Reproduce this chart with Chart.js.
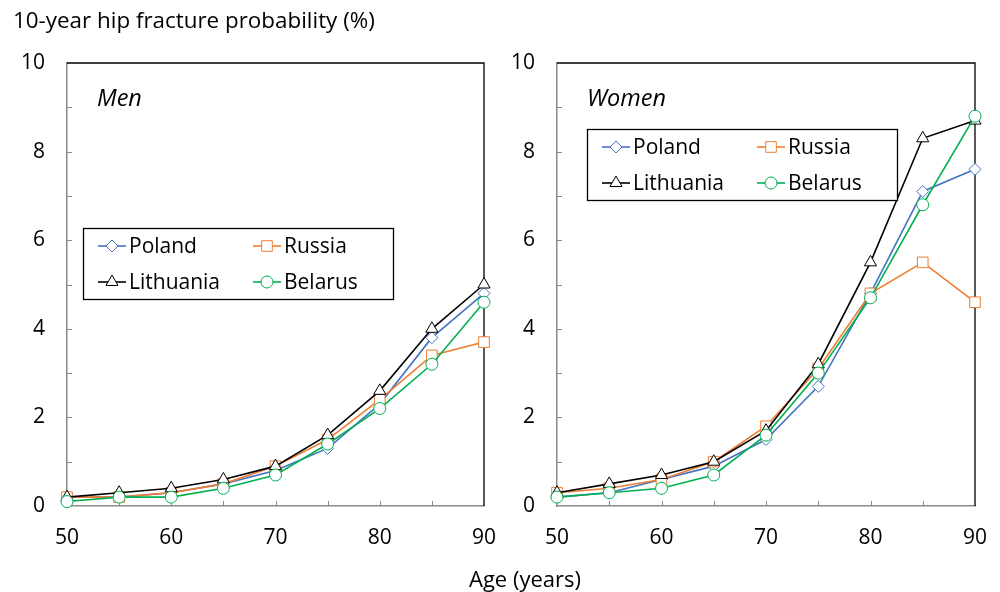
<!DOCTYPE html>
<html>
<head>
<meta charset="utf-8">
<script src="https://cdn.jsdelivr.net/npm/chart.js@4"></script>
<style>
  body { margin: 0; background: #fff; font-family: "Open Sans", sans-serif; }
  #wrap { position: relative; width: 1000px; height: 592px; overflow: hidden; }
  .panel { position: absolute; top: 0; height: 592px; }
  .txt { position: absolute; color: #000; white-space: nowrap; line-height: 24px; }
</style>
</head>
<body>
<div id="wrap">
  <div class="panel" style="left:0;width:500px"><canvas id="menChart"></canvas></div>
  <div class="panel" style="left:490px;width:510px"><canvas id="womenChart"></canvas></div>
  <div class="txt" style="left:13px;top:8px;font-size:22.4px">10-year hip fracture probability (%)</div>
  <div class="txt" style="left:469px;top:566px;font-size:22px">Age (years)</div>
</div>
<script>
// ages on the x axis
const ages = [50, 55, 60, 65, 70, 75, 80, 85, 90];

// Men
const menPoland    = [0.2, 0.2, 0.3, 0.5, 0.8, 1.3, 2.3, 3.8, 4.8];
const menRussia    = [0.2, 0.2, 0.3, 0.5, 0.9, 1.5, 2.4, 3.4, 3.7];
const menLithuania = [0.2, 0.3, 0.4, 0.6, 0.9, 1.6, 2.6, 4.0, 5.0];
const menBelarus   = [0.1, 0.2, 0.2, 0.4, 0.7, 1.4, 2.2, 3.2, 4.6];

// Women
const womenPoland    = [0.2, 0.3, 0.6, 0.9, 1.5, 2.7, 4.8, 7.1, 7.6];
const womenRussia    = [0.3, 0.4, 0.6, 1.0, 1.8, 3.1, 4.8, 5.5, 4.6];
const womenLithuania = [0.3, 0.5, 0.7, 1.0, 1.7, 3.2, 5.5, 8.3, 8.7];
const womenBelarus   = [0.2, 0.3, 0.4, 0.7, 1.6, 3.0, 4.7, 6.8, 8.8];

const countries = ['Poland', 'Russia', 'Lithuania', 'Belarus'];
const yTicks = [0, 2, 4, 6, 8, 10];
const xTicks = [50, 60, 70, 80, 90];

const FONT = '"Open Sans", sans-serif';
const AXIS_GREY = '#898989';

const styles = {
    Poland:    { color: '#4472C4', point: 'rectRot',  radius: 6,   order: 4 },
    Russia:    { color: '#ED7D31', point: 'rect',     radius: 7.5, order: 3 },
    Lithuania: { color: '#000000', point: 'triangle', radius: 7,   order: 2 },
    Belarus:   { color: '#00B050', point: 'circle',   radius: 6,   order: 1 }
};

function buildDatasets(values) {
    return countries.map((name, i) => {
        const s = styles[name];
        return {
            label: name,
            data: ages.map((a, j) => ({ x: a, y: values[i][j] })),
            borderColor: s.color,
            backgroundColor: '#ffffff',
            borderWidth: 1.6,
            pointStyle: s.point,
            pointRadius: s.radius,
            pointBorderWidth: 1,
            pointBackgroundColor: '#ffffff',
            pointBorderColor: s.color,
            order: s.order,
            clip: false,
            tension: 0
        };
    });
}

// ticks pointing inward plus the black top and right frame
const framePlugin = {
    id: 'frame',
    beforeDatasetsDraw(chart) {
        const ctx = chart.ctx;
        const a = chart.chartArea;
        const x = chart.scales.x;
        const y = chart.scales.y;
        ctx.save();
        ctx.strokeStyle = AXIS_GREY;
        ctx.lineWidth = 1;
        for (let v = 1; v < 10; v++) {
            const py = Math.round(y.getPixelForValue(v)) + 0.5;
            ctx.beginPath();
            ctx.moveTo(a.left, py);
            ctx.lineTo(a.left + 5, py);
            ctx.stroke();
        }
        for (let v = 55; v < 90; v += 5) {
            const px = Math.round(x.getPixelForValue(v)) + 0.5;
            ctx.beginPath();
            ctx.moveTo(px, a.bottom);
            ctx.lineTo(px, a.bottom - 5);
            ctx.stroke();
        }
        ctx.strokeStyle = '#000';
        ctx.lineWidth = 1.3;
        ctx.beginPath();
        ctx.moveTo(a.left, a.top);
        ctx.lineTo(a.right, a.top);
        ctx.lineTo(a.right, a.bottom);
        ctx.stroke();
        ctx.restore();
    }
};

// boxed 2x2 legend and the italic panel label
const legendBoxPlugin = {
    id: 'legendBox',
    afterDraw(chart, args, opts) {
        const ctx = chart.ctx;
        const a = chart.chartArea;
        ctx.save();
        ctx.font = 'italic 23.5px ' + FONT;
        ctx.fillStyle = '#000';
        ctx.textBaseline = 'middle';
        ctx.textAlign = 'left';
        ctx.fillText(opts.title, a.left + 30, a.top + 36);

        const bx = a.left + opts.left;
        const by = a.top + opts.top;
        ctx.fillStyle = '#fff';
        ctx.fillRect(bx, by, 310, 71);
        ctx.strokeStyle = '#000';
        ctx.lineWidth = 1.3;
        ctx.strokeRect(bx + 0.5, by + 0.5, 310, 71);

        ctx.font = '21px ' + FONT;
        chart.data.datasets.forEach((ds, i) => {
            const col = i % 2;
            const row = Math.floor(i / 2);
            const lx = bx + 15 + col * 155;
            const ly = by + 18 + row * 36;
            ctx.strokeStyle = ds.borderColor;
            ctx.lineWidth = 1.6;
            ctx.beginPath();
            ctx.moveTo(lx, ly);
            ctx.lineTo(lx + 28, ly);
            ctx.stroke();
            ctx.fillStyle = '#fff';
            ctx.lineWidth = 1;
            Chart.helpers.drawPoint(ctx, {
                pointStyle: ds.pointStyle,
                radius: ds.pointRadius,
                borderWidth: 1,
                rotation: 0
            }, lx + 14, ly);
            ctx.fillStyle = '#000';
            ctx.fillText(ds.label, lx + 31, ly + 1);
        });
        ctx.restore();
    }
};

function makePanel(id, values, title, legendPos, rightPad) {
    const ctx = document.getElementById(id).getContext('2d');
    return new Chart(ctx, {
        type: 'line',
        data: { datasets: buildDatasets(values) },
        options: {
            responsive: true,
            maintainAspectRatio: false,
            animation: false,
            layout: { padding: { top: 63, right: rightPad, bottom: 0, left: 0 } },
            scales: {
                x: {
                    type: 'linear',
                    min: 50,
                    max: 90,
                    afterBuildTicks: scale => { scale.ticks = xTicks.map(v => ({ value: v })); },
                    afterFit: scale => {
                        scale.height = 86;
                        scale.paddingLeft = 0;
                        scale.paddingRight = 0;
                    },
                    grid: { display: false, drawTicks: false },
                    border: { display: true, color: AXIS_GREY, width: 1.5 },
                    ticks: { padding: 19, color: '#000', font: { family: FONT, size: 21 }, maxRotation: 0 }
                },
                y: {
                    min: 0,
                    max: 10,
                    afterBuildTicks: scale => { scale.ticks = yTicks.map(v => ({ value: v })); },
                    afterFit: scale => {
                        scale.width = 67;
                        scale.paddingTop = 0;
                        scale.paddingBottom = 0;
                    },
                    grid: { display: false, drawTicks: false },
                    border: { display: true, color: AXIS_GREY, width: 1.5 },
                    ticks: { padding: 22, color: '#000', font: { family: FONT, size: 21 } }
                }
            },
            plugins: {
                legend: { display: false },
                tooltip: { enabled: false },
                legendBox: { title: title, left: legendPos[0], top: legendPos[1] }
            }
        },
        plugins: [framePlugin, legendBoxPlugin]
    });
}

makePanel('menChart', [menPoland, menRussia, menLithuania, menBelarus], 'Men', [16, 165], 16);
makePanel('womenChart', [womenPoland, womenRussia, womenLithuania, womenBelarus], 'Women', [30, 66], 25);
</script>
</body>
</html>
